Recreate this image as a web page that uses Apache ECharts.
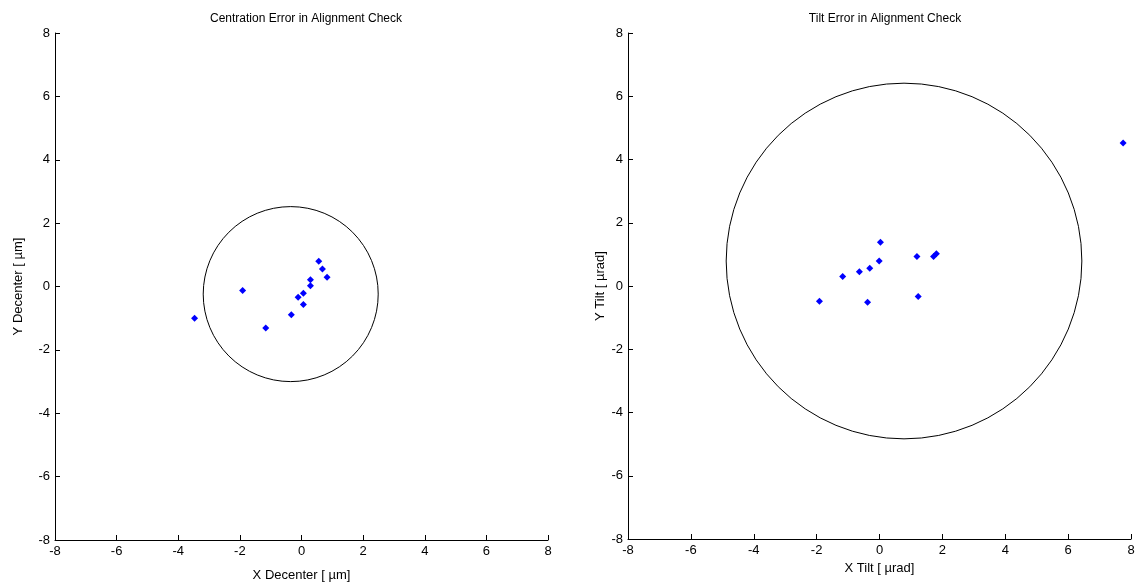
<!DOCTYPE html>
<html>
<head>
<meta charset="utf-8">
<script src="https://cdn.jsdelivr.net/npm/echarts@6/dist/echarts.min.js"></script>
<style>
  html, body { margin: 0; padding: 0; background: #fff; }
  #chart { width: 1138px; height: 588px; }
</style>
</head>
<body>
<div id="chart"></div>
<script>
// 中心偏差数据 (X Decenter, Y Decenter)
const decenterX = [0.56, 0.68, 0.83, 0.29, 0.29, 0.06, -0.11, 0.06, -0.33, -1.91, -1.16, -3.47];
const decenterY = [0.80, 0.55, 0.29, 0.21, 0.02, -0.21, -0.34, -0.57, -0.89, -0.13, -1.31, -1.00];
// 倾斜误差数据 (X Tilt, Y Tilt)
const tiltX = [0.03, 1.19, 1.81, 1.72, -0.01, -0.31, -0.64, -1.17, -1.91, -0.38, 1.23, 7.75];
const tiltY = [1.38, 0.93, 1.02, 0.93, 0.79, 0.56, 0.45, 0.30, -0.48, -0.51, -0.33, 4.52];
// 圆: [cx, cy, r]
const decenterCircle = [-0.35, -0.24, 2.8];
const tiltCircle = [0.78, 0.79, 5.64];
const tickMin = -8, tickMax = 8, tickStep = 2;

const font = "'Liberation Sans', Arial, sans-serif";
const zip = (xs, ys) => xs.map((x, i) => [x, ys[i]]);

const axisBase = (name, gap) => ({
  type: "value",
  min: tickMin,
  max: tickMax,
  interval: tickStep,
  name: name,
  nameLocation: "middle",
  nameGap: gap,
  nameTextStyle: { color: "#000", fontFamily: font, fontSize: 13 },
  axisLine: { show: true, onZero: false, lineStyle: { color: "#000", width: 1 } },
  axisTick: { show: true, inside: true, length: 5, lineStyle: { color: "#000" } },
  axisLabel: { color: "#000", fontFamily: font, fontSize: 13, margin: 5 },
  splitLine: { show: false }
});

// 用坐标系画圆
const circleItem = (params, api) => {
  const c = api.coord([api.value(0), api.value(1)]);
  const s = api.size([api.value(2), api.value(2)]);
  return {
    type: "circle",
    shape: { cx: c[0], cy: c[1], r: (s[0] + s[1]) / 2 },
    style: { fill: "none", stroke: "#000", lineWidth: 1 },
    silent: true
  };
};

const chart = echarts.init(document.getElementById("chart"));
const option = {
  animation: false,
  backgroundColor: "#fff",
  title: [
    { text: "Centration Error in Alignment Check", left: 301, top: 8, textAlign: "center",
      textStyle: { fontFamily: font, fontSize: 12, fontWeight: "normal", color: "#000" } },
    { text: "Tilt Error in Alignment Check", left: 880, top: 8, textAlign: "center",
      textStyle: { fontFamily: font, fontSize: 12, fontWeight: "normal", color: "#000" } }
  ],
  grid: [
    { left: 55, top: 33, width: 493, height: 507 },
    { left: 628, top: 33, width: 503, height: 506 }
  ],
  xAxis: [
    Object.assign(axisBase("X Decenter [ µm]", 29), { gridIndex: 0 }),
    Object.assign(axisBase("X Tilt [ µrad]", 21), { gridIndex: 1 })
  ],
  yAxis: [
    Object.assign(axisBase("Y Decenter [ µm]", 30), { gridIndex: 0 }),
    Object.assign(axisBase("Y Tilt [ µrad]", 21), { gridIndex: 1 })
  ],
  series: [
    {
      type: "custom", xAxisIndex: 0, yAxisIndex: 0,
      renderItem: circleItem, data: [decenterCircle], clip: false
    },
    {
      type: "custom", xAxisIndex: 1, yAxisIndex: 1,
      renderItem: circleItem, data: [tiltCircle], clip: false
    },
    {
      type: "scatter", xAxisIndex: 0, yAxisIndex: 0,
      symbol: "diamond", symbolSize: [7, 7],
      itemStyle: { color: "#0000ff", opacity: 1 },
      data: zip(decenterX, decenterY)
    },
    {
      type: "scatter", xAxisIndex: 1, yAxisIndex: 1,
      symbol: "diamond", symbolSize: [7, 7],
      itemStyle: { color: "#0000ff", opacity: 1 },
      data: zip(tiltX, tiltY)
    }
  ]
};
chart.setOption(option);
</script>
</body>
</html>
